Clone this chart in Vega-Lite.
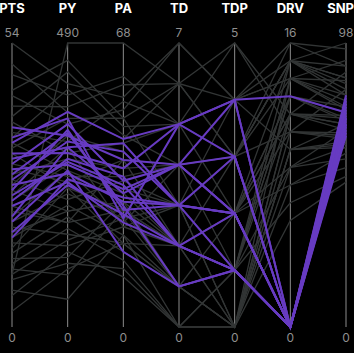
{
  "$schema": "https://vega.github.io/schema/vega-lite/v6.json",
  "width": 354,
  "height": 353,
  "padding": 0,
  "autosize": {"type": "none"},
  "background": "#000000",
  "config": {"view": {"stroke": null}},
  "data": {"values": [
    {"id": "g1", "hl": false, "PTS": 54, "PY": 420, "PA": 55, "TD": 7, "TDP": 4, "DRV": 15, "SNP": 90},
    {"id": "g2", "hl": false, "PTS": 10, "PY": 490, "PA": 68, "TD": 6, "TDP": 3, "DRV": 14, "SNP": 85},
    {"id": "g3", "hl": false, "PTS": 45, "PY": 460, "PA": 50, "TD": 6, "TDP": 5, "DRV": 12, "SNP": 88},
    {"id": "g4", "hl": false, "PTS": 48, "PY": 400, "PA": 60, "TD": 5, "TDP": 4, "DRV": 16, "SNP": 96},
    {"id": "g5", "hl": false, "PTS": 42, "PY": 380, "PA": 58, "TD": 6, "TDP": 3, "DRV": 15, "SNP": 98},
    {"id": "g6", "hl": false, "PTS": 40, "PY": 440, "PA": 48, "TD": 5, "TDP": 5, "DRV": 11, "SNP": 82},
    {"id": "g7", "hl": false, "PTS": 44, "PY": 350, "PA": 52, "TD": 7, "TDP": 4, "DRV": 14, "SNP": 80},
    {"id": "g8", "hl": false, "PTS": 36, "PY": 410, "PA": 46, "TD": 4, "TDP": 3, "DRV": 15, "SNP": 84},
    {"id": "g9", "hl": false, "PTS": 39, "PY": 300, "PA": 44, "TD": 5, "TDP": 2, "DRV": 13, "SNP": 76},
    {"id": "g10", "hl": false, "PTS": 34, "PY": 360, "PA": 50, "TD": 3, "TDP": 4, "DRV": 10, "SNP": 70},
    {"id": "g11", "hl": false, "PTS": 30, "PY": 250, "PA": 40, "TD": 4, "TDP": 3, "DRV": 15, "SNP": 86},
    {"id": "g12", "hl": false, "PTS": 28, "PY": 220, "PA": 35, "TD": 3, "TDP": 2, "DRV": 12, "SNP": 72},
    {"id": "g13", "hl": false, "PTS": 26, "PY": 200, "PA": 30, "TD": 2, "TDP": 3, "DRV": 11, "SNP": 65},
    {"id": "g14", "hl": false, "PTS": 25, "PY": 310, "PA": 24, "TD": 3, "TDP": 2, "DRV": 9, "SNP": 68},
    {"id": "g15", "hl": false, "PTS": 22, "PY": 180, "PA": 28, "TD": 2, "TDP": 1, "DRV": 14, "SNP": 78},
    {"id": "g16", "hl": false, "PTS": 20, "PY": 230, "PA": 26, "TD": 3, "TDP": 0, "DRV": 10, "SNP": 62},
    {"id": "g17", "hl": false, "PTS": 19, "PY": 160, "PA": 20, "TD": 2, "TDP": 1, "DRV": 13, "SNP": 74},
    {"id": "g18", "hl": false, "PTS": 17, "PY": 210, "PA": 22, "TD": 1, "TDP": 2, "DRV": 8, "SNP": 60},
    {"id": "g19", "hl": false, "PTS": 16, "PY": 140, "PA": 24, "TD": 2, "TDP": 0, "DRV": 12, "SNP": 70},
    {"id": "g20", "hl": false, "PTS": 14, "PY": 190, "PA": 18, "TD": 1, "TDP": 1, "DRV": 9, "SNP": 58},
    {"id": "g21", "hl": false, "PTS": 13, "PY": 120, "PA": 30, "TD": 1, "TDP": 0, "DRV": 11, "SNP": 66},
    {"id": "g22", "hl": false, "PTS": 12, "PY": 170, "PA": 16, "TD": 0, "TDP": 1, "DRV": 15, "SNP": 80},
    {"id": "g23", "hl": false, "PTS": 10, "PY": 150, "PA": 26, "TD": 1, "TDP": 0, "DRV": 10, "SNP": 64},
    {"id": "g24", "hl": false, "PTS": 9, "PY": 110, "PA": 14, "TD": 0, "TDP": 0, "DRV": 8, "SNP": 55},
    {"id": "g25", "hl": false, "PTS": 7, "PY": 48, "PA": 22, "TD": 0, "TDP": 0, "DRV": 12, "SNP": 68},
    {"id": "g26", "hl": false, "PTS": 3, "PY": 100, "PA": 20, "TD": 1, "TDP": 0, "DRV": 9, "SNP": 62},
    {"id": "g27", "hl": false, "PTS": 6, "PY": 130, "PA": 12, "TD": 0, "TDP": 1, "DRV": 7, "SNP": 52},
    {"id": "g28", "hl": false, "PTS": 24, "PY": 280, "PA": 33, "TD": 3, "TDP": 1, "DRV": 14, "SNP": 76},
    {"id": "g29", "hl": false, "PTS": 31, "PY": 260, "PA": 36, "TD": 4, "TDP": 2, "DRV": 15, "SNP": 82},
    {"id": "g30", "hl": false, "PTS": 33, "PY": 240, "PA": 28, "TD": 2, "TDP": 2, "DRV": 13, "SNP": 72},
    {"id": "g31", "hl": false, "PTS": 27, "PY": 330, "PA": 42, "TD": 3, "TDP": 3, "DRV": 16, "SNP": 90},
    {"id": "g32", "hl": false, "PTS": 29, "PY": 290, "PA": 38, "TD": 4, "TDP": 1, "DRV": 12, "SNP": 70},
    {"id": "g33", "hl": false, "PTS": 21, "PY": 270, "PA": 32, "TD": 2, "TDP": 2, "DRV": 11, "SNP": 67},
    {"id": "g34", "hl": false, "PTS": 18, "PY": 200, "PA": 30, "TD": 3, "TDP": 0, "DRV": 14, "SNP": 75},
    {"id": "g35", "hl": false, "PTS": 15, "PY": 240, "PA": 20, "TD": 1, "TDP": 1, "DRV": 13, "SNP": 71},
    {"id": "g36", "hl": false, "PTS": 37, "PY": 320, "PA": 54, "TD": 5, "TDP": 3, "DRV": 15, "SNP": 86},
    {"id": "g37", "hl": false, "PTS": 50, "PY": 370, "PA": 45, "TD": 6, "TDP": 4, "DRV": 14, "SNP": 92},
    {"id": "g38", "hl": false, "PTS": 23, "PY": 180, "PA": 40, "TD": 2, "TDP": 0, "DRV": 10, "SNP": 63},
    {"id": "g39", "hl": false, "PTS": 11, "PY": 90, "PA": 28, "TD": 1, "TDP": 0, "DRV": 6, "SNP": 50},
    {"id": "g40", "hl": false, "PTS": 35, "PY": 270, "PA": 25, "TD": 4, "TDP": 2, "DRV": 12, "SNP": 73},
    {"id": "p1", "hl": true, "PTS": 38, "PY": 330, "PA": 40, "TD": 4, "TDP": 4, "DRV": 13, "SNP": 74},
    {"id": "p2", "hl": true, "PTS": 35, "PY": 371, "PA": 45, "TD": 5, "TDP": 4, "DRV": 0, "SNP": 80},
    {"id": "p3", "hl": true, "PTS": 33, "PY": 300, "PA": 38, "TD": 5, "TDP": 3, "DRV": 0, "SNP": 78},
    {"id": "p4", "hl": true, "PTS": 31, "PY": 350, "PA": 35, "TD": 4, "TDP": 3, "DRV": 0, "SNP": 77},
    {"id": "p5", "hl": true, "PTS": 30, "PY": 280, "PA": 33, "TD": 4, "TDP": 2, "DRV": 0, "SNP": 75},
    {"id": "p6", "hl": true, "PTS": 28, "PY": 320, "PA": 42, "TD": 3, "TDP": 2, "DRV": 0, "SNP": 74},
    {"id": "p7", "hl": true, "PTS": 27, "PY": 265, "PA": 30, "TD": 3, "TDP": 2, "DRV": 0, "SNP": 73},
    {"id": "p8", "hl": true, "PTS": 26, "PY": 340, "PA": 28, "TD": 3, "TDP": 1, "DRV": 0, "SNP": 72},
    {"id": "p9", "hl": true, "PTS": 24, "PY": 290, "PA": 36, "TD": 2, "TDP": 1, "DRV": 0, "SNP": 71},
    {"id": "p10", "hl": true, "PTS": 23, "PY": 250, "PA": 25, "TD": 2, "TDP": 1, "DRV": 0, "SNP": 70},
    {"id": "p11", "hl": true, "PTS": 21, "PY": 310, "PA": 32, "TD": 4, "TDP": 2, "DRV": 0, "SNP": 69},
    {"id": "p12", "hl": true, "PTS": 20, "PY": 270, "PA": 18, "TD": 1, "TDP": 1, "DRV": 0, "SNP": 68},
    {"id": "p13", "hl": true, "PTS": 18, "PY": 245, "PA": 27, "TD": 2, "TDP": 1, "DRV": 0, "SNP": 67},
    {"id": "p14", "hl": true, "PTS": 36, "PY": 360, "PA": 26, "TD": 5, "TDP": 4, "DRV": 0, "SNP": 79},
    {"id": "p15", "hl": true, "PTS": 32, "PY": 310, "PA": 44, "TD": 3, "TDP": 3, "DRV": 0, "SNP": 76},
    {"id": "p16", "hl": true, "PTS": 25, "PY": 285, "PA": 34, "TD": 2, "TDP": 2, "DRV": 0, "SNP": 72},
    {"id": "p17", "hl": true, "PTS": 29, "PY": 335, "PA": 29, "TD": 1, "TDP": 1, "DRV": 0, "SNP": 70},
    {"id": "p18", "hl": true, "PTS": 17, "PY": 255, "PA": 31, "TD": 3, "TDP": 2, "DRV": 0, "SNP": 66}
  ]},
  "transform": [
    {"fold": ["PTS", "PY", "PA", "TD", "TDP", "DRV", "SNP"]},
    {"joinaggregate": [{"op": "max", "field": "value", "as": "max"}], "groupby": ["key"]},
    {"calculate": "datum.value / datum.max", "as": "norm"}
  ],
  "encoding": {
    "x": {"field": "key", "type": "nominal", "sort": ["PTS", "PY", "PA", "TD", "TDP", "DRV", "SNP"], "scale": {"type": "point", "range": [12, 346], "padding": 0}, "axis": null}
  },
  "layer": [
    {
      "transform": [{"aggregate": [{"op": "max", "field": "max", "as": "max"}], "groupby": ["key"]}],
      "mark": {"type": "rule", "color": "#8c8c8c", "strokeWidth": 1},
      "encoding": {
        "y": {"datum": 0, "type": "quantitative", "scale": {"domain": [0, 1], "range": [327, 43]}, "axis": null},
        "y2": {"datum": 1}
      }
    },
    {
      "transform": [{"filter": "!datum.hl"}],
      "mark": {"type": "line", "color": "#323535", "strokeWidth": 1.3},
      "encoding": {
        "y": {"field": "norm", "type": "quantitative", "scale": {"domain": [0, 1], "range": [327, 43]}, "axis": null},
        "detail": {"field": "id"}
      }
    },
    {
      "transform": [{"filter": "datum.hl"}],
      "mark": {"type": "line", "color": "#673bc2", "strokeWidth": 2},
      "encoding": {
        "y": {"field": "norm", "type": "quantitative", "scale": {"domain": [0, 1], "range": [327, 43]}, "axis": null},
        "detail": {"field": "id"}
      }
    },
    {
      "transform": [{"aggregate": [{"op": "max", "field": "max", "as": "max"}], "groupby": ["key"]}, {"filter": "datum.key !== 'SNP'"}],
      "mark": {"type": "text", "color": "#ffffff", "fontWeight": "bold", "fontSize": 13, "font": "Inter", "dy": -34},
      "encoding": {
        "y": {"datum": 1, "type": "quantitative", "scale": {"domain": [0, 1], "range": [327, 43]}, "axis": null},
        "text": {"field": "key"}
      }
    },
    {
      "transform": [{"aggregate": [{"op": "max", "field": "max", "as": "max"}], "groupby": ["key"]}, {"filter": "datum.key === 'SNP'"}],
      "mark": {"type": "text", "color": "#ffffff", "fontWeight": "bold", "fontSize": 13, "font": "Inter", "dy": -34, "align": "right", "dx": 8},
      "encoding": {
        "y": {"datum": 1, "type": "quantitative", "scale": {"domain": [0, 1], "range": [327, 43]}, "axis": null},
        "text": {"field": "key"}
      }
    },
    {
      "transform": [{"aggregate": [{"op": "max", "field": "max", "as": "max"}], "groupby": ["key"]}],
      "mark": {"type": "text", "color": "#8f8f8f", "fontSize": 12, "font": "Inter", "dy": -10},
      "encoding": {
        "y": {"datum": 1, "type": "quantitative", "scale": {"domain": [0, 1], "range": [327, 43]}, "axis": null},
        "text": {"field": "max"}
      }
    },
    {
      "transform": [{"aggregate": [{"op": "max", "field": "max", "as": "max"}], "groupby": ["key"]}],
      "mark": {"type": "text", "color": "#8f8f8f", "fontSize": 12, "font": "Inter", "dy": 11},
      "encoding": {
        "y": {"datum": 0, "type": "quantitative", "scale": {"domain": [0, 1], "range": [327, 43]}, "axis": null},
        "text": {"value": "0"}
      }
    }
  ]
}
